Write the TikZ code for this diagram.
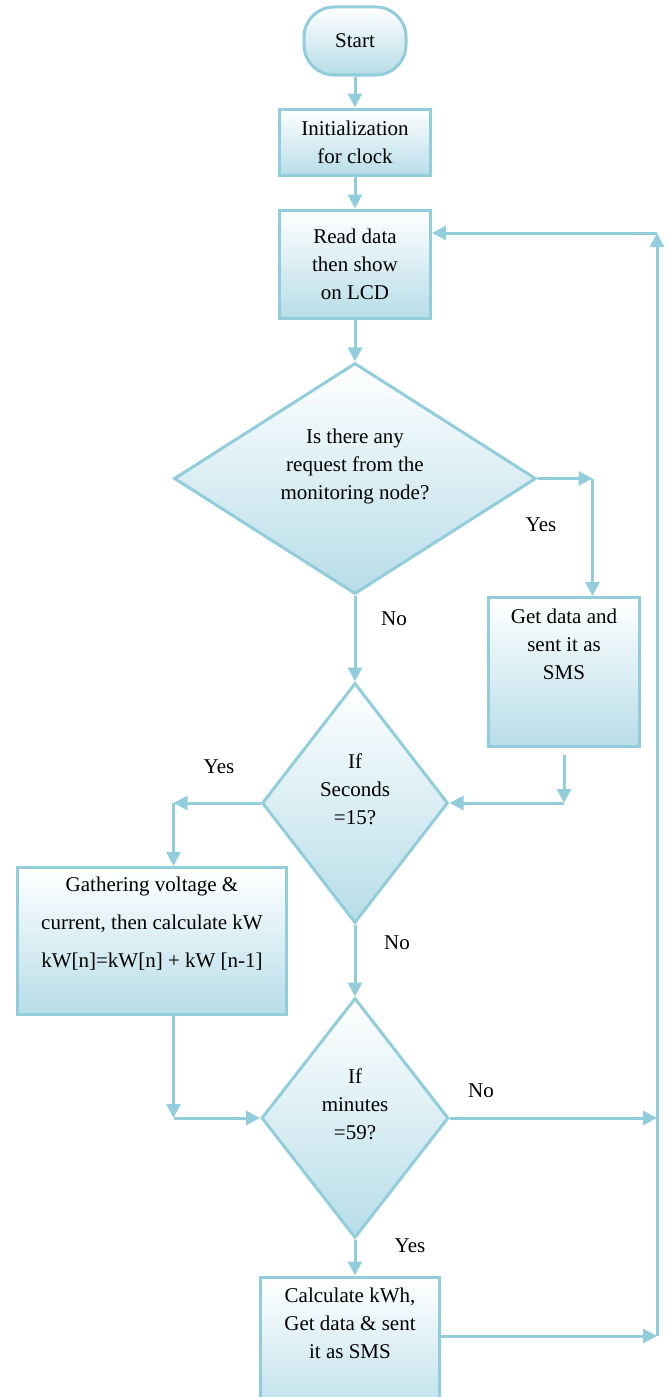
\documentclass[tikz,border=0pt]{standalone}
\usepackage{fontspec}
\setmainfont{Liberation Serif}
\usetikzlibrary{shapes.geometric,positioning,arrows.meta}
\definecolor{lineblue}{RGB}{146,205,220}
\definecolor{fillblue}{RGB}{183,221,232}

\begin{document}
\begin{tikzpicture}
        [x=1pt, y=-1pt, line width=3pt, font=\fontsize{21}{28}\selectfont,
         block/.style={draw=lineblue, top color=white, bottom color=fillblue, align=center},
         term/.style={block, rounded corners=30pt, minimum width=102pt, minimum height=68pt},
         proc/.style={block, minimum width=151pt},
         test/.style={block, diamond, inner sep=0pt},
         flow/.style={draw=lineblue, -{Triangle[length=14pt, width=14pt]}}]
        
        \useasboundingbox (0,0) rectangle (671,1397);
        
        \node [term] (start) at (355,41) {Start};
        \node [proc, minimum height=66pt]  (init) [below=31pt of start] {Initialization\\for clock};
        \node [proc, minimum height=108pt] (read) [below=32pt of init]  {Read data\\then show\\on LCD};
        \node [test, aspect=1.56, minimum width=362pt, minimum height=231pt] (ask) [below=42pt of read] {Is there any\\request from the\\monitoring node?\\\mbox{}};
        \node [proc, minimum height=149pt] (get) at (564,672) {Get data and\\sent it as\\SMS\\\mbox{}\\\mbox{}};
        \node [test, aspect=0.78, minimum width=186pt, minimum height=240pt] (sec) [below=86pt of ask] {If\\Seconds\\=15?\\\mbox{}};
        \node [block, minimum width=269pt, minimum height=147pt, font=\fontsize{21}{38}\selectfont] (gath) at (152,941) {Gathering voltage \&\\current, then calculate kW\\kW[n]=kW[n] + kW [n-1]\\\mbox{}};
        \node [test, aspect=0.78, minimum width=187pt, minimum height=240pt] (mins) [below=72pt of sec] {If\\minutes\\=59?\\\mbox{}};
        \node [proc, minimum width=179pt, minimum height=149pt] (calc) [below=36pt of mins, xshift=-5pt] {Calculate kWh,\\Get data \& sent\\it as SMS\\\mbox{}\\\mbox{}};
        
        \node (yes1) at (541,525) {Yes};
        \node (no1)  at (394,619) {No};
        \node (yes2) at (219,767) {Yes};
        \node (no2)  at (397,943) {No};
        \node (no3)  at (481,1091) {No};
        \node (yes3) at (410,1246) {Yes};
        
        \coordinate (askr)  at ([xshift=55pt]ask.east);
        \coordinate (getb)  at ([yshift=-7pt]get.south);
        \coordinate (secr)  at (getb |- sec.east);
        \coordinate (secl)  at ([xshift=-87pt]sec.west);
        \coordinate (minsl) at (secl |- mins.west);
        \coordinate (back)  at (657,233);
        \coordinate (minsr) at (back |- mins.east);
        \coordinate (calcr) at (657,1336);
        
        \draw[flow] (start) -- (init);
        \draw[flow] (init) -- (read);
        \draw[flow] (read) -- (ask);
        \draw[flow] (ask.east) -- (askr);
        \draw[flow] (askr) -- (askr |- get.north);
        \draw[flow] (getb) -- (secr);
        \draw[flow] (secr) -- (sec.east);
        \draw[flow] (ask) -- (sec);
        \draw[flow] (sec.west) -- (secl);
        \draw[flow] (secl) -- (secl |- gath.north);
        \draw[flow] (sec) -- (mins);
        \draw[flow] (secl |- gath.south) -- (minsl);
        \draw[flow] (minsl) -- (mins.west);
        \draw[flow] (mins.east) -- (minsr);
        \draw[flow] (mins.south) -- (mins.south |- calc.north);
        \draw[flow] (calc.east |- calcr) -- (calcr);
        \draw[flow] (calcr) -- (back);
        \draw[flow] (back) -- (back -| read.east);
        
\end{tikzpicture}
\end{document}
